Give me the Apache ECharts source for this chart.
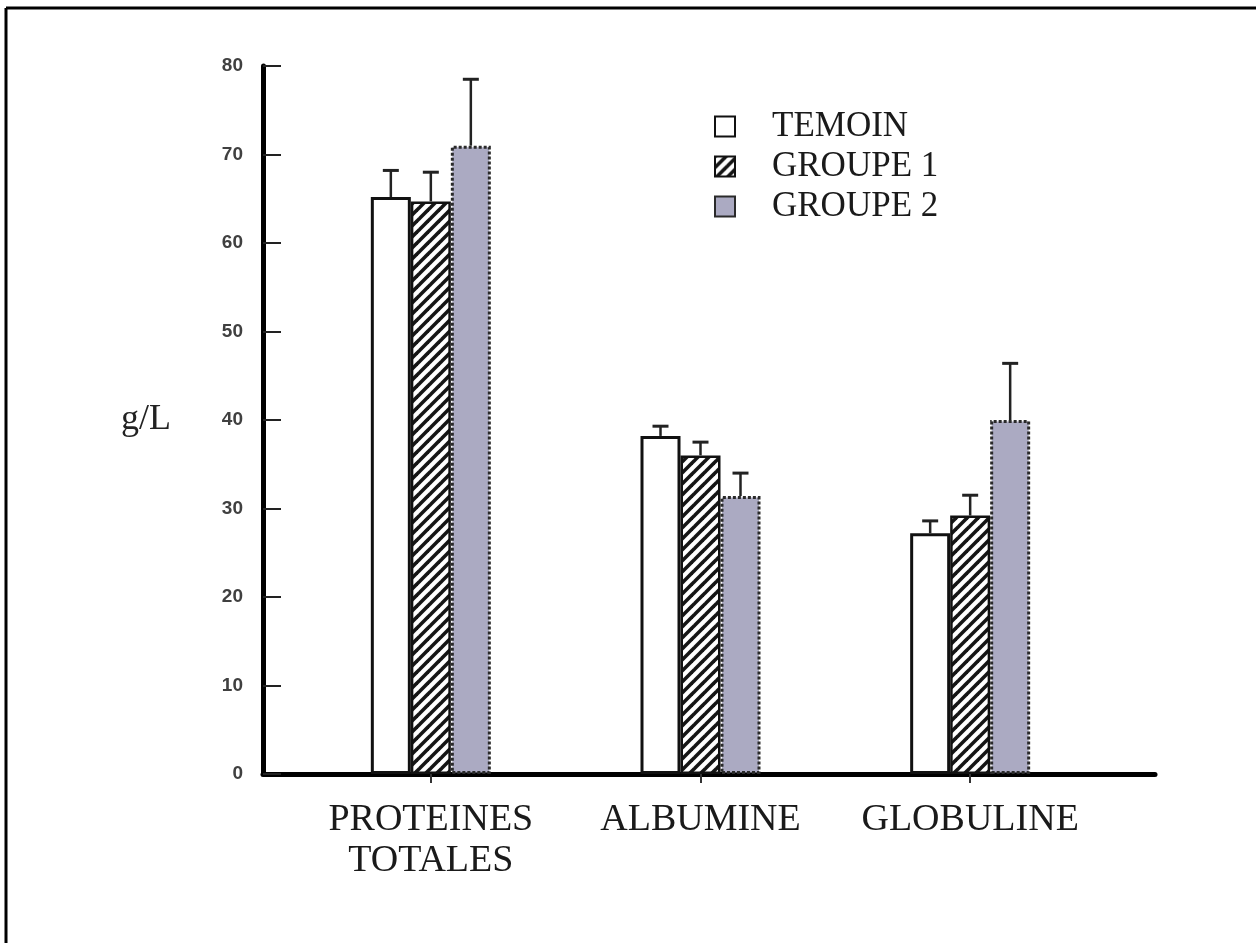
<!DOCTYPE html>
<html>
<head>
<meta charset="utf-8">
<title>Protéines sériques</title>
<script src="https://cdn.jsdelivr.net/npm/echarts@6/dist/echarts.min.js"></script>
<style>
  html, body { margin: 0; padding: 0; background: #fff; }
  #chart { width: 1256px; height: 943px; }
</style>
</head>
<body>
<div id="chart"></div>
<script>
// Categories and groups
const categories = ['PROTEINES\nTOTALES', 'ALBUMINE', 'GLOBULINE'];
const groupNames = ['TEMOIN', 'GROUPE 1', 'GROUPE 2'];

// Mean values (g/L)
const temoin = [65.2, 38.2, 27.2];
const groupe1 = [64.7, 36.0, 29.2];
const groupe2 = [71.0, 31.4, 40.0];

// Upper ends of the error bars (g/L)
const temoinErr = [68.2, 39.3, 28.6];
const groupe1Err = [68.0, 37.5, 31.5];
const groupe2Err = [78.5, 34.0, 46.4];

// Y axis ticks
const yTicks = [0, 10, 20, 30, 40, 50, 60, 70, 80];

const serif = '"Liberation Serif", "Times New Roman", serif';

// Diagonal hatching for GROUPE 1
function hatchPattern() {
  const size = 11;
  const c = document.createElement('canvas');
  c.width = size; c.height = size;
  const ctx = c.getContext('2d');
  ctx.fillStyle = '#ffffff';
  ctx.fillRect(0, 0, size, size);
  ctx.strokeStyle = '#151515';
  ctx.lineWidth = 3.6;
  for (const k of [-size, 0, size]) {
    ctx.beginPath();
    ctx.moveTo(k - 2, size + 2);
    ctx.lineTo(k + size + 2, -2);
    ctx.stroke();
  }
  return { image: c, repeat: 'repeat' };
}

const barWidth = 40;
const offsets = [-barWidth, 0, barWidth];

function errorSeries(name, means, uppers, k) {
  return {
    type: 'custom',
    name: name + '-err',
    xAxisIndex: 1,
    yAxisIndex: 1,
    z: 5,
    silent: true,
    data: means.map((m, i) => [i, m, uppers[i]]),
    renderItem(params, api) {
      const base = api.coord([api.value(0), api.value(1)]);
      const top = api.coord([api.value(0), api.value(2)]);
      const x = base[0] + offsets[k];
      return {
        type: 'group',
        children: [
          { type: 'line', shape: { x1: x, y1: base[1], x2: x, y2: top[1] },
            style: { stroke: '#222', lineWidth: 2.5 } },
          { type: 'line', shape: { x1: x - 8, y1: top[1], x2: x + 8, y2: top[1] },
            style: { stroke: '#222', lineWidth: 3 } }
        ]
      };
    }
  };
}

const chart = echarts.init(document.getElementById('chart'), null, { renderer: 'canvas' });

chart.setOption({
  backgroundColor: '#ffffff',
  animation: false,
  graphic: [
    { type: 'line', shape: { x1: 6, y1: 8, x2: 1256, y2: 8 }, style: { stroke: '#000', lineWidth: 3 } },
    { type: 'line', shape: { x1: 6, y1: 8, x2: 6, y2: 943 }, style: { stroke: '#000', lineWidth: 3 } }
  ],
  legend: {
    orient: 'vertical',
    left: 709,
    top: 104,
    icon: 'rect',
    itemWidth: 20,
    itemHeight: 20,
    itemGap: 5,
    data: groupNames,
    textStyle: { fontFamily: serif, fontSize: 35, lineHeight: 35, color: '#1a1a1a', padding: [0, 0, 0, 32] }
  },
  grid: [
    { left: 263, right: 101, top: 66, bottom: 169 },
    { left: 296, width: 809, top: 66, bottom: 169 }
  ],
  xAxis: [
    {
      type: 'value', gridIndex: 0, min: 0, max: 1,
      axisLine: { show: true, lineStyle: { color: '#000', width: 5 } },
      axisTick: { show: false }, axisLabel: { show: false }, splitLine: { show: false }
    },
    {
      type: 'category', gridIndex: 1, data: categories,
      axisLine: { show: false },
      axisTick: { show: true, alignWithLabel: true, length: 9, lineStyle: { color: '#333', width: 2 } },
      axisLabel: { interval: 0, hideOverlap: false, fontFamily: serif, fontSize: 38, color: '#1a1a1a', margin: 26, lineHeight: 41 },
      splitLine: { show: false }
    }
  ],
  yAxis: [
    {
      type: 'value', gridIndex: 0, min: yTicks[0], max: yTicks[yTicks.length - 1], interval: 10,
      name: 'g/L', nameLocation: 'middle', nameRotate: 0, nameGap: 92,
      nameTextStyle: { fontFamily: serif, fontSize: 36, color: '#222', padding: [26, 0, 0, 0] },
      axisLine: { show: true, lineStyle: { color: '#000', width: 5 } },
      axisTick: { show: true, inside: true, length: 18, lineStyle: { color: '#222', width: 2 } },
      axisLabel: {
        fontFamily: '"Liberation Sans", Arial, sans-serif', fontSize: 19, fontWeight: 'bold',
        color: '#404040', margin: 20,
        formatter: v => (yTicks.indexOf(v) >= 0 ? String(v) : '')
      },
      splitLine: { show: false }
    },
    {
      type: 'value', gridIndex: 1, min: yTicks[0], max: yTicks[yTicks.length - 1], interval: 10,
      show: false
    }
  ],
  series: [
    {
      type: 'bar', name: groupNames[0], xAxisIndex: 1, yAxisIndex: 1,
      data: temoin, barWidth: barWidth, barGap: '0%',
      itemStyle: { color: '#ffffff', borderColor: '#111', borderWidth: 3 }
    },
    {
      type: 'bar', name: groupNames[1], xAxisIndex: 1, yAxisIndex: 1,
      data: groupe1, barWidth: barWidth, barGap: '0%',
      itemStyle: { color: hatchPattern(), borderColor: '#111', borderWidth: 2.5 }
    },
    {
      type: 'bar', name: groupNames[2], xAxisIndex: 1, yAxisIndex: 1,
      data: groupe2, barWidth: barWidth, barGap: '0%',
      itemStyle: { color: '#abaac2', borderColor: '#2a2a2a', borderWidth: 3, borderType: [3, 2] }
    },
    errorSeries(groupNames[0], temoin, temoinErr, 0),
    errorSeries(groupNames[1], groupe1, groupe1Err, 1),
    errorSeries(groupNames[2], groupe2, groupe2Err, 2)
  ]
});
</script>
</body>
</html>
